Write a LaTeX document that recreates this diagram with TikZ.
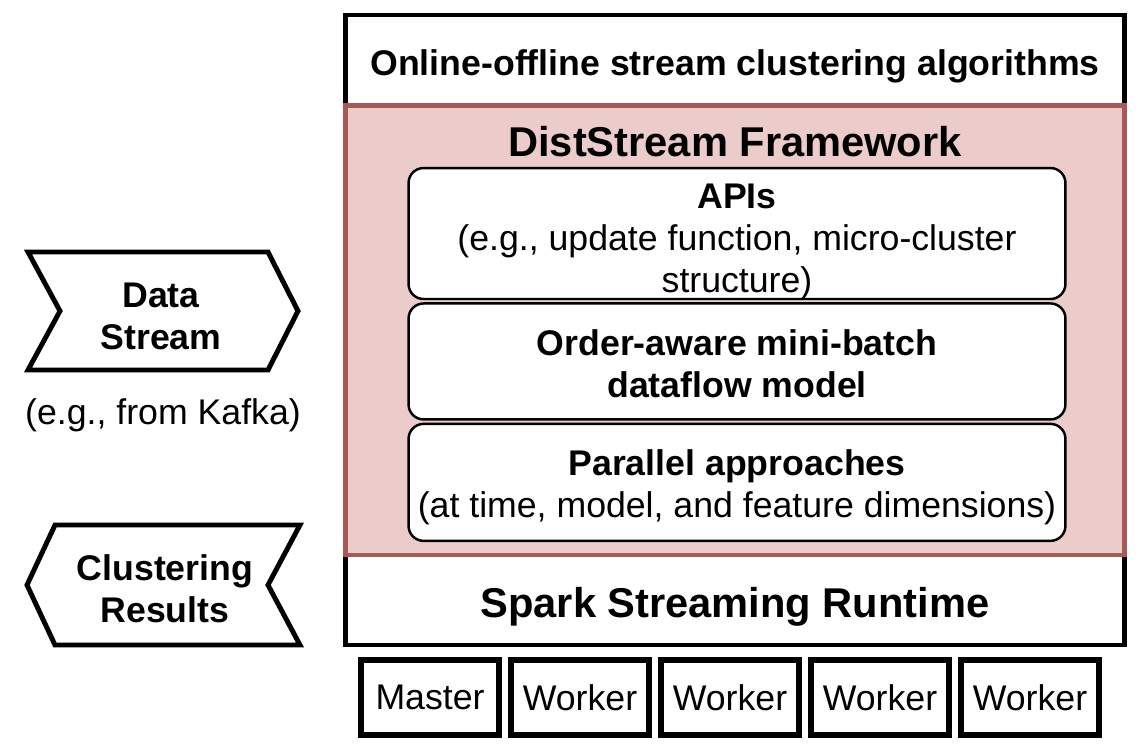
\documentclass[tikz,border=0pt]{standalone}
\usepackage{fontspec}
\setmainfont{Liberation Sans}
\usetikzlibrary{positioning}

\definecolor{framered}{RGB}{166,89,87}
\definecolor{framepink}{RGB}{236,204,203}

\tikzset{
  layer/.style = {draw, line width=2.8pt, fill=white, minimum width=15.6cm, inner sep=0pt},
  module/.style = {draw, line width=1.4pt, fill=white, rounded corners=0.3cm,
                   minimum width=13.14cm, inner sep=0pt},
  machine/.style = {draw, line width=3.4pt, minimum width=2.76cm, minimum height=1.5cm, inner sep=0pt},
  chevron/.style = {draw, line width=2.8pt, fill=white},
  big/.style = {font=\fontsize{23.7}{28}\selectfont\bfseries},
  body/.style = {font=\fontsize{20.3}{23.8}\selectfont, align=center},
}

\begin{document}
\begin{tikzpicture}[x=0.02cm, y=-0.02cm]
  \useasboundingbox (0,0) rectangle (1140,752);

  % layers of the stack
  \node[layer, minimum height=1.8cm] (algos) at (735,60) {};
  \node[layer, minimum height=1.8cm] (spark) at (735,600) {};
  \node[layer, draw=framered, fill=framepink, minimum height=9cm] (dist) at (735,330) {};
  \node[body, font=\fontsize{20.3}{23.8}\selectfont\bfseries] (algostext) at ([yshift=-0.12cm]algos)
        {Online-offline stream clustering algorithms};
  \node[big] (sparktext) at ([yshift=-0.14cm]spark) {Spark Streaming Runtime};
  \node[big] (title) at (735,142) {DistStream Framework};

  % framework modules
  \node[module, minimum height=2.62cm] (apis) at (737,233.5) {};
  \node[module, minimum height=2.32cm, below=0.04cm of apis] (dataflow) {};
  \node[module, minimum height=2.34cm, below=0.04cm of dataflow] (parallel) {};
  \node[body] (apistext) at ([yshift=-0.17cm]apis)
        {\textbf{APIs}\\(e.g., update function, micro-cluster\\structure)};
  \node[body] (dataflowtext) at ([yshift=-0.04cm]dataflow)
        {\bfseries Order-aware mini-batch\\\bfseries dataflow model};
  \node[body] (paralleltext) at ([yshift=-0.1cm]parallel)
        {\textbf{Parallel approaches}\\(at time, model, and feature dimensions)};

  % cluster machines
  \foreach \name [count=\i from 0] in {Master,Worker,Worker,Worker,Worker}
    \node[machine, body] (m\i) at ({430+150*\i},697.5) {\name};

  % input and output
  \draw[chevron] (28,252) -- (268,252) -- (298,311) -- (268,370) -- (28,370) -- (60,311) -- cycle;
  \node[body] (input) at (161,316) {\bfseries Data\\\bfseries Stream};
  \node[body] (kafka) at (163,415) {(e.g., from Kafka)};

  \draw[chevron] (55,525) -- (300,525) -- (268,585) -- (300,645) -- (55,645) -- (27,585) -- cycle;
  \node[body] (output) at (165,589) {\bfseries Clustering\\\bfseries Results};
\end{tikzpicture}
\end{document}
